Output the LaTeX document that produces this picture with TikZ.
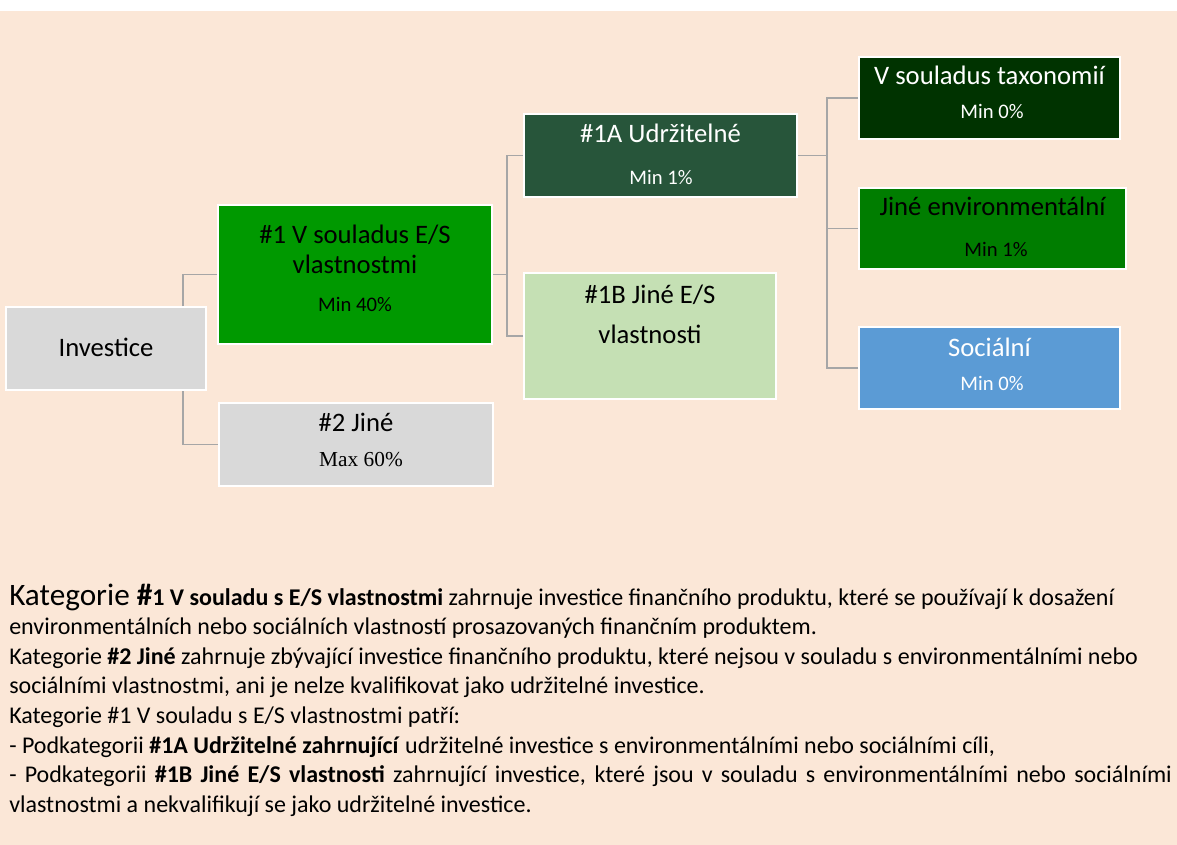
\documentclass[tikz,border=0pt]{standalone}
\usepackage{fontspec}
\setmainfont{Carlito}
\newfontfamily\serifmax{Liberation Serif}
\definecolor{bgc}{HTML}{FBE7D7}
\definecolor{cgreen}{HTML}{009900}
\definecolor{cgrey}{HTML}{D9D9D9}
\definecolor{cdark}{HTML}{27553A}
\definecolor{clight}{HTML}{C5E0B4}
\definecolor{ctax}{HTML}{003300}
\definecolor{cenv}{HTML}{007D00}
\definecolor{csoc}{HTML}{5B9BD5}
\definecolor{cline}{HTML}{A6A6A6}
\tikzset{
  box/.style={draw=white, line width=1.5pt, inner sep=0pt},
  lab/.style={font=\fontsize{20}{24}\selectfont, anchor=base, inner sep=0pt},
  minl/.style={font=\fontsize{15.5}{18}\selectfont, anchor=base, inner sep=0pt},
  conn/.style={draw=cline, line width=1.1pt},
  body/.style={font=\fontsize{18}{22}\selectfont, anchor=base west, inner sep=0pt}
}
\begin{document}
\begin{tikzpicture}[x=0.75pt,y=-0.75pt]
\useasboundingbox (0,0) rectangle (1177,845);
\fill[white] (0,0) rectangle (1177,845);
\fill[bgc] (0,11) rectangle (1177,845);

% boxes
\node[box, fill=cgrey, minimum width=150pt, minimum height=62.25pt] (inv) at (106,348.5) {};
\node[box, fill=cgreen, minimum width=205.5pt, minimum height=104.25pt] (b1) at (355,274.5) {};
\node[box, fill=cgrey, minimum width=205.5pt, minimum height=62.25pt] (b2) at (356,444.5) {};
\node[box, fill=cdark, minimum width=204.75pt, minimum height=62.25pt] (b1a) at (660.5,155.5) {};
\node[box, fill=clight, minimum width=189pt, minimum height=94.5pt] (b1b) at (650,336) {};
\node[box, fill=ctax, minimum width=195.75pt, minimum height=61.5pt] (tax) at (989.5,98) {};
\node[box, fill=cenv, minimum width=200.25pt, minimum height=60.75pt] (env) at (992.5,228.5) {};
\node[box, fill=csoc, minimum width=195.75pt, minimum height=61.5pt] (soc) at (989.5,368) {};

% junction coordinates
\coordinate (j1) at (183,0);
\coordinate (j2) at (507,0);
\coordinate (j3) at (827,0);

% connectors
\draw[conn] (j1 |- inv.north) |- (b1.west);
\draw[conn] (j1 |- inv.south) |- (b2.west);
\draw[conn] (b1.east) -- (j2 |- b1.east);
\draw[conn] (b1a.west) -| (j2 |- b1.east);
\draw[conn] (b1b.west) -| (j2 |- b1.east);
\draw[conn] (b1a.east) -- (j3 |- b1a.east);
\draw[conn] (tax.west) -| (j3 |- b1a.east);
\draw[conn] (env.west) -| (j3 |- b1a.east);
\draw[conn] (soc.west) -| (j3 |- b1a.east);

% box texts
\node[lab] (tinv) at (106,356) {Investice};
\node[lab] (t1a) at (355,243.3) {\#1 V souladus E/S};
\node[lab] (t1b) at (355,273.3) {vlastnostmi};
\node[minl] (t1c) at (355,311) {Min 40\%};
\node[lab] (t2a) at (356,431.7) {\#2 Jiné};
\node[anchor=base, inner sep=0pt, font=\serifmax\fontsize{16}{19}\selectfont] (t2b) at (361,466.7) {Max 60\%};
\node[lab, text=white] (tAa) at (660.5,142.7) {\#1A Udržitelné};
\node[minl, text=white] (tAb) at (661,185) {Min 1\%};
\node[lab] (tBa) at (650,303.3) {\#1B Jiné E/S};
\node[lab] (tBb) at (650,343.3) {vlastnosti};
\node[lab, text=white] (ttaxa) at (989.5,85) {V souladus taxonomií};
\node[minl, text=white] (ttaxb) at (992,119) {Min 0\%};
\node[lab] (tenva) at (992.5,215) {Jiné environmentální};
\node[minl] (tenvb) at (996,256.7) {Min 1\%};
\node[lab, text=white] (tsoca) at (989.5,356.7) {Sociální};
\node[minl, text=white] (tsocb) at (992,390.7) {Min 0\%};

% explanatory text
\node[body] (l1) at (9,605) {{\fontsize{23.4}{26}\selectfont Kategorie \textbf{\#}}\textbf{1 V souladu s E/S vlastnostmi} zahrnuje investice finančního produktu, které se používají k dosažení};
\node[body] (l2) at (9,634.6) {environmentálních nebo sociálních vlastností prosazovaných finančním produktem.};
\node[body] (l3) at (9,664.2) {Kategorie \textbf{\#2 Jiné} zahrnuje zbývající investice finančního produktu, které nejsou v souladu s environmentálními nebo};
\node[body] (l4) at (9,693.8) {sociálními vlastnostmi, ani je nelze kvalifikovat jako udržitelné investice.};
\node[body] (l5) at (9,723.4) {Kategorie \#1 V souladu s E/S vlastnostmi patří:};
\node[body] (l6) at (9,753) {- Podkategorii \textbf{\#1A Udržitelné zahrnující} udržitelné investice s environmentálními nebo sociálními cíli,};
\node[body] (l7) at (9,782.6) {\makebox[872pt][s]{- Podkategorii \textbf{\#1B Jiné E/S vlastnosti} zahrnující investice, které jsou v souladu s environmentálními nebo sociálními}};
\node[body] (l8) at (9,812.2) {vlastnostmi a nekvalifikují se jako udržitelné investice.};
\end{tikzpicture}
\end{document}
